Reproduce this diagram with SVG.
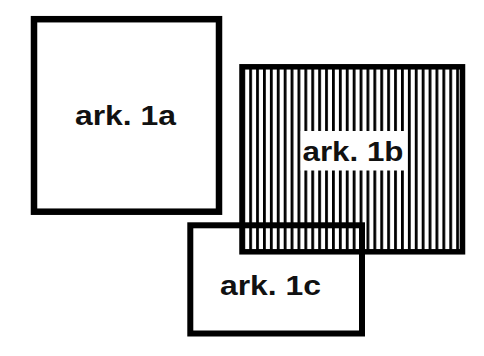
<svg xmlns="http://www.w3.org/2000/svg" width="484" height="356" viewBox="0 0 484 356">
  <style>
    .box { stroke: #000; stroke-linejoin: miter; }
    .lbl { font-family: "Liberation Sans", Arial, sans-serif; font-weight: bold; font-size: 27px; fill: #111; }
  </style>
  <defs>
    <pattern id="vstripes" patternUnits="userSpaceOnUse" x="249.2" y="0" width="6.9" height="10">
      <rect x="0" y="0" width="2.8" height="10" fill="#000"/>
    </pattern>
  </defs>
  <rect width="484" height="356" fill="#fff"/>
  <g id="ark-1a">
    <rect class="box" x="34" y="19.2" width="185" height="192.5" fill="#fff" stroke-width="6.5"/>
    <text class="lbl" x="75" y="124.5" textLength="101" lengthAdjust="spacingAndGlyphs">ark. 1a</text>
  </g>
  <g id="ark-1b">
    <rect x="242" y="66.8" width="220.5" height="185" fill="#fff"/>
    <rect class="box" x="242" y="66.8" width="220.5" height="185" fill="url(#vstripes)" stroke-width="5.5"/>
    <rect x="300.7" y="131" width="105.5" height="39.5" fill="#fff"/>
    <text class="lbl" x="302.5" y="160.8" textLength="101" lengthAdjust="spacingAndGlyphs">ark. 1b</text>
  </g>
  <g id="ark-1c">
    <rect class="box" x="190.3" y="225.3" width="171.7" height="108.2" fill="none" stroke-width="6"/>
    <text class="lbl" x="220" y="294.5" textLength="101" lengthAdjust="spacingAndGlyphs">ark. 1c</text>
  </g>
  <g id="connectors"/>
</svg>
